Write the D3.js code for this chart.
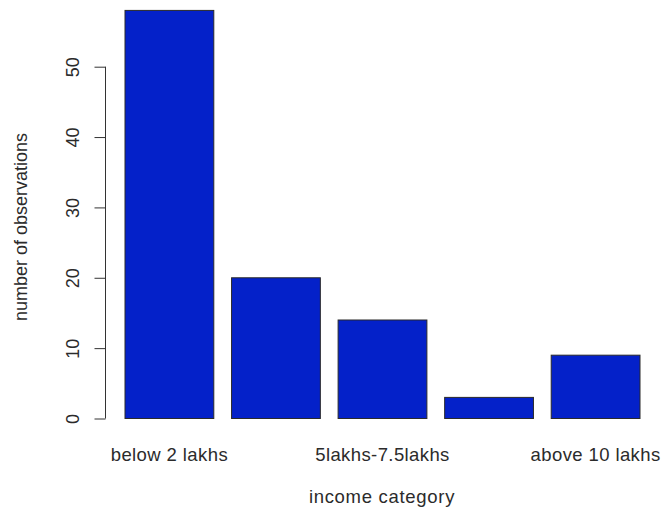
<!DOCTYPE html>
<html>
<head>
<meta charset="utf-8">
<script src="https://cdn.jsdelivr.net/npm/d3@7"></script>
<style>
  html, body { margin: 0; padding: 0; background: #fff; }
  svg { display: block; }
  text { font-family: "Liberation Sans", Arial, sans-serif; fill: #2b2b2b; }
</style>
</head>
<body>
<svg id="chart" width="661" height="509"></svg>
<script>
const categories = ["below 2 lakhs", "2lakhs-5lakhs", "5lakhs-7.5lakhs", "7.5lakhs-10lakhs", "above 10 lakhs"];
const counts = [58, 20, 14, 3, 9];
const shownLabels = ["below 2 lakhs", "5lakhs-7.5lakhs", "above 10 lakhs"];
const yTicks = [0, 10, 20, 30, 40, 50];
const xTitle = "income category";
const yTitle = "number of observations";

const svg = d3.select("#chart");

const x = d3.scaleBand()
  .domain(categories)
  .range([125, 640])
  .paddingInner(0.2 / 1.2)
  .paddingOuter(0);

const y = d3.scaleLinear().domain([0, 50]).range([418.5, 66.7]);

// bars
svg.append("g").selectAll("rect")
  .data(categories)
  .join("rect")
  .attr("x", d => x(d))
  .attr("width", x.bandwidth())
  .attr("y", (d, i) => y(counts[i]))
  .attr("height", (d, i) => y(0) - y(counts[i]))
  .attr("fill", "#0421C9")
  .attr("stroke", "#2a2a2a")
  .attr("stroke-width", 1);

// y axis
const yAxis = d3.axisLeft(y).tickValues(yTicks).tickSize(11).tickPadding(5).tickFormat(d3.format("d"));
const gy = svg.append("g").attr("transform", "translate(105.5,0)").call(yAxis);
gy.select(".domain").attr("stroke", "#333").attr("d", `M0,${y(0)}V${y(50)}`);
gy.selectAll(".tick line").attr("stroke", "#333");
gy.selectAll(".tick text")
  .attr("font-size", 18)
  .attr("font-family", "Liberation Sans, Arial, sans-serif")
  .attr("fill", "#2b2b2b")
  .attr("text-anchor", "middle")
  .attr("x", null).attr("dy", null)
  .attr("transform", "translate(-27,0) rotate(-90)")
  .attr("y", 0);

// x labels (only those R showed)
svg.append("g").selectAll("text")
  .data(shownLabels)
  .join("text")
  .attr("x", d => x(d) + x.bandwidth() / 2)
  .attr("y", 461)
  .attr("text-anchor", "middle")
  .attr("font-size", 18.5)
  .attr("letter-spacing", 0.4)
  .text(d => d);

// axis titles
svg.append("text")
  .attr("x", 382)
  .attr("y", 503)
  .attr("text-anchor", "middle")
  .attr("font-size", 18.5)
  .attr("letter-spacing", 0.7)
  .text(xTitle);

svg.append("text")
  .attr("transform", "translate(27,227) rotate(-90)")
  .attr("text-anchor", "middle")
  .attr("font-size", 18)
  .text(yTitle);
</script>
</body>
</html>
